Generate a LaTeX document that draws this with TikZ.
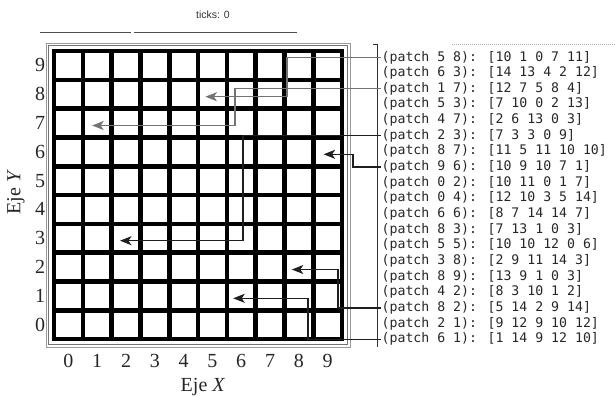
\documentclass[tikz,border=0pt]{standalone}
\usepackage{fontspec}
\setmainfont{Liberation Serif}
\newfontfamily\monofont{DejaVu Sans Mono}
\newfontfamily\uisans{Liberation Sans}
\usetikzlibrary{arrows.meta}
\begin{document}
\begin{tikzpicture}[x=1bp,y=-1bp,
  cell/.style={draw=black,line width=4.6bp,minimum size=28.8bp,inner sep=0pt,outer sep=0pt},
  txt/.style={font=\monofont\fontsize{13.2bp}{15bp}\selectfont,text=black!85,anchor=west,inner sep=0.5bp,text height=9.5bp,text depth=2.5bp},
  axnum/.style={font=\fontsize{20bp}{22bp}\selectfont,text=black!85,inner sep=0pt},
  axlab/.style={font=\fontsize{20bp}{22bp}\selectfont,text=black!85,inner sep=0pt},
  conn/.style={line width=1.25bp,-{Stealth[length=11.5bp,width=9bp,inset=3bp]}},
  connA/.style={conn,draw=black!55},
  connB/.style={conn,draw=black!88}]
\useasboundingbox (0,0) rectangle (615,396);
% header
\node[font=\uisans\fontsize{10.5bp}{12bp}\selectfont,text=black!80] (ticks) at (213,15) {ticks: 0};
\coordinate (ul1) at (40,32); \coordinate (ul2) at (131,32);
\coordinate (ul3) at (134,32); \coordinate (ul4) at (297,32);
\draw[black!70,line width=0.9bp] (ul1) -- (ul2) (ul3) -- (ul4);
\coordinate (tb1) at (452,44); \coordinate (tb2) at (615,44);
\draw[black!30,line width=0.8bp,dash pattern=on 1bp off 1bp] (tb1) -- (tb2);
% frame
\draw[black!55,line width=1.5bp] (48.5,45.5) rectangle (347.5,344.5);
\draw[black!40,line width=0.8bp] (46,43) rectangle (350,347);
% grid cells
\foreach \i in {0,...,9}{
  \foreach \j in {0,...,9}{
    \node[cell] (c\i\j) at ({54+28.8*(\i+0.5)},{339-28.8*(\j+0.5)}) {};
  }
}
% axis numbers
\foreach \i in {0,...,9}{
  \node[axnum] (xl\i) at ({54+28.8*(\i+0.5)},361) {\i};
  \node[axnum] (yl\i) at (40,{339-28.8*(\i+0.5)}) {\i};
}
\node[axlab] (ex) at (203,387) {Eje \textit{X}};
\node[axlab,rotate=90] (ey) at (16,192) {Eje \textit{Y}};
% bracket
\coordinate (br0) at (373,44); \coordinate (br1) at (377,44); \coordinate (br2) at (377,347);
\draw[black!80,line width=1bp] (br0) -- (br1) -- (br2);
% text lines
\node[txt] (t1)  at (381,{57.5+0*15.65})  {(patch 5 8): [10 1 0 7 11]};
\node[txt] (t2)  at (381,{57.5+1*15.65})  {(patch 6 3): [14 13 4 2 12]};
\node[txt] (t3)  at (381,{57.5+2*15.65})  {(patch 1 7): [12 7 5 8 4]};
\node[txt] (t4)  at (381,{57.5+3*15.65})  {(patch 5 3): [7 10 0 2 13]};
\node[txt] (t5)  at (381,{57.5+4*15.65})  {(patch 4 7): [2 6 13 0 3]};
\node[txt] (t6)  at (381,{57.5+5*15.65})  {(patch 2 3): [7 3 3 0 9]};
\node[txt] (t7)  at (381,{57.5+6*15.65})  {(patch 8 7): [11 5 11 10 10]};
\node[txt] (t8)  at (381,{57.5+7*15.65})  {(patch 9 6): [10 9 10 7 1]};
\node[txt] (t9)  at (381,{57.5+8*15.65})  {(patch 0 2): [10 11 0 1 7]};
\node[txt] (t10) at (381,{57.5+9*15.65})  {(patch 0 4): [12 10 3 5 14]};
\node[txt] (t11) at (381,{57.5+10*15.65}) {(patch 6 6): [8 7 14 14 7]};
\node[txt] (t12) at (381,{57.5+11*15.65}) {(patch 8 3): [7 13 1 0 3]};
\node[txt] (t13) at (381,{57.5+12*15.65}) {(patch 5 5): [10 10 12 0 6]};
\node[txt] (t14) at (381,{57.5+13*15.65}) {(patch 3 8): [2 9 11 14 3]};
\node[txt] (t15) at (381,{57.5+14*15.65}) {(patch 8 9): [13 9 1 0 3]};
\node[txt] (t16) at (381,{57.5+15*15.65}) {(patch 4 2): [8 3 10 1 2]};
\node[txt] (t17) at (381,{57.5+16*15.65}) {(patch 8 2): [5 14 2 9 14]};
\node[txt] (t18) at (381,{57.5+17*15.65}) {(patch 2 1): [9 12 9 10 12]};
\node[txt] (t19) at (381,{57.5+18*15.65}) {(patch 6 1): [1 14 9 12 10]};
% connectors
\draw[connA] (t1.west) -| ([xshift=74.6bp,yshift=-2.5bp]c58.center) -- ([xshift=-7bp,yshift=-2.5bp]c58.center);
\draw[connA] (t3.west) -| ([xshift=137.8bp,yshift=-2.5bp]c17.center) -- ([xshift=-5bp,yshift=-2.5bp]c17.center);
\draw[connB] (t6.west) -| ([xshift=117bp,yshift=-2.5bp]c23.center) -- ([xshift=-6bp,yshift=-2.5bp]c23.center);
\draw[connB] (t8.west) -| ([xshift=25.4bp,yshift=-2.5bp]c96.center) -- ([xshift=-4bp,yshift=-2.5bp]c96.center);
\draw[connB] (t17.west) -| ([xshift=39.2bp,yshift=-2.5bp]c82.center) -- ([xshift=-7bp,yshift=-2.5bp]c82.center);
\draw[connB] (t19.west) -| ([xshift=66.8bp,yshift=-2.5bp]c61.center) -- ([xshift=-8bp,yshift=-2.5bp]c61.center);
\end{tikzpicture}
\end{document}
